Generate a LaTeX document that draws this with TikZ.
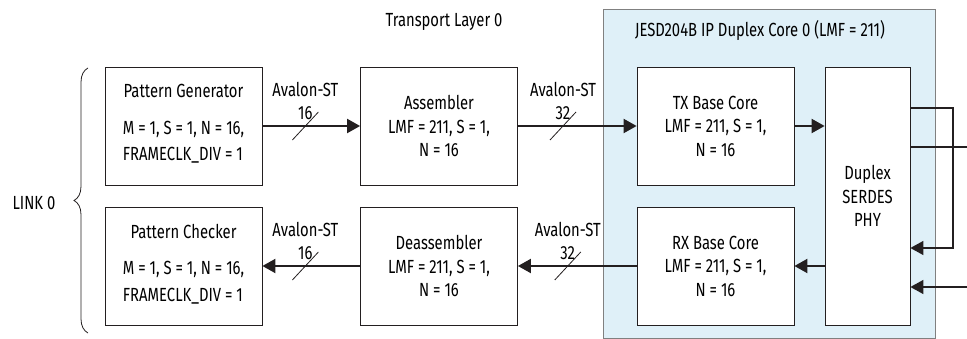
\documentclass[tikz,border=0pt]{standalone}
\usepackage{fontspec}
\setmainfont{Fira Sans}[FakeStretch=0.78]
\usetikzlibrary{arrows.meta,positioning,decorations.pathreplacing}

\definecolor{coreblue}{RGB}{223,240,248}
\definecolor{inkgray}{RGB}{35,31,32}

\begin{document}
\begin{tikzpicture}[x=1pt,y=-1pt,on grid,
  font=\fontsize{19}{23.5}\selectfont,
  block/.style={draw=inkgray,line width=0.8pt,fill=white,minimum width=157pt,
    minimum height=118pt,align=center,inner sep=0pt},
  link/.style={line width=2pt,draw=inkgray,-{Triangle[length=13pt,width=14pt]}},
  loopline/.style={line width=1.5pt,draw=inkgray},
  slash/.style={line width=0.8pt,draw=inkgray},
  buslabel/.style={align=center,inner sep=0pt,anchor=south}]
  \useasboundingbox (0,0) rectangle (967,339);

  % duplex core background
  \node[draw=gray,line width=0.8pt,fill=coreblue,minimum width=332pt,minimum height=329pt,
    inner sep=0pt] (core) at (769,173.5) {};
  \node (coretitle) at (760,30) {JESD204B IP Duplex Core 0 (LMF = 211)};
  \node (tl) at (444,22) {Transport Layer 0};

  % blocks
  \node[block] (pg) at (183.5,126) {Pattern Generator\\[19pt]
    \begin{tabular}{@{}l@{}}M = 1, S = 1, N = 16,\\[3pt]FRAMECLK\_DIV = 1\end{tabular}};
  \node[block] (chk) [below=140pt of pg] {Pattern Checker\\[19pt]
    \begin{tabular}{@{}l@{}}M = 1, S = 1, N = 16,\\[3pt]FRAMECLK\_DIV = 1\end{tabular}};
  \node[block] (asm) at (439,126) {Assembler\\LMF = 211, S = 1,\\N = 16};
  \node[block] (deasm) [below=140pt of asm] {Deassembler\\LMF = 211, S = 1,\\N = 16};
  \node[block] (tx) at (715.5,126) {TX Base Core\\LMF = 211, S = 1,\\N = 16};
  \node[block] (rx) [below=140pt of tx] {RX Base Core\\LMF = 211, S = 1,\\N = 16};
  \node[block,minimum width=85pt,minimum height=258pt] (phy) at (867.5,196)
    {Duplex\\SERDES\\PHY};

  % link brace
  \node (link) at (34,203) {LINK 0};
  \draw[inkgray,line width=0.8pt,decorate,decoration={brace,amplitude=14pt}]
    (88,333) -- (88,68);

  % data paths
  \draw[link] (pg) -- coordinate[pos=0.44] (s1) (asm);
  \draw[link] (asm) -- coordinate[pos=0.38] (s2) (tx);
  \draw[link] (tx) -- (tx -| phy.west);
  \draw[link] (deasm) -- coordinate[pos=0.56] (s3) (chk);
  \draw[link] (rx) -- coordinate[pos=0.58] (s4) (deasm);
  \draw[link] (rx -| phy.west) -- (rx);

  \foreach \s/\w in {s1/16,s2/32,s3/16,s4/32}{
    \draw[slash] (\s) ++(-13,14) -- ++(26,-28);
    \node[buslabel] at ([yshift=6pt]\s) {Avalon-ST\\\w};
  }

  % serial lanes
  \coordinate (lb) at (953,108);
  \coordinate (txout) at (967,147);
  \coordinate (rxin) at (967,287);
  \draw[loopline] (phy.east |- lb) -- (lb) -- (953,248)
    [-{Triangle[length=13pt,width=14pt]}] -- (phy.east |- 0,248);
  \draw[loopline] (phy.east |- txout) -- (txout);
  \draw[loopline,-{Triangle[length=13pt,width=14pt]}] (rxin) -- (phy.east |- rxin);
\end{tikzpicture}
\end{document}
